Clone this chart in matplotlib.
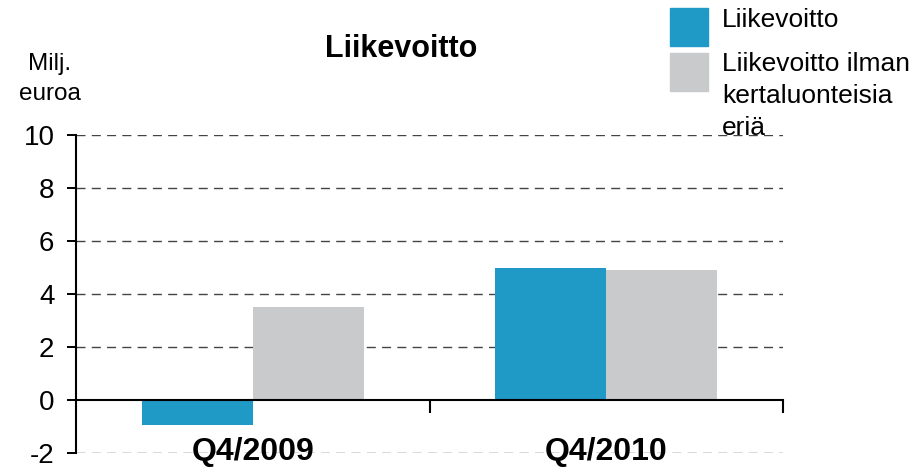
import matplotlib
matplotlib.use("Agg")
from matplotlib import pyplot as plt
from matplotlib.patches import Rectangle
import numpy as np

plt.rcParams['font.family'] = ['Liberation Sans', 'DejaVu Sans']

# data
categories = ["Q4/2009", "Q4/2010"]
liikevoitto = [-0.95, 5.0]
ilman_kertaeria = [3.5, 4.9]
y_ticks = [-2, 0, 2, 4, 6, 8, 10]

series_labels = ["Liikevoitto", "Liikevoitto ilman\nkertaluonteisia\neriä"]
blue = "#1f99c6"
gray = "#c9cacc"

fig = plt.figure(figsize=(9.15, 4.67), dpi=100)
ax = fig.add_axes([76 / 915, 1 - 453 / 467, (783 - 76) / 915, (453 - 135) / 467])

x = np.arange(len(categories))
w = 0.314
ax.bar(x - w / 2, liikevoitto, width=w, color=blue, zorder=3)
ax.bar(x + w / 2, ilman_kertaeria, width=w, color=gray, zorder=3)

ax.set_xlim(-0.5, len(categories) - 0.5)
ax.set_ylim(-2, 10)
ax.set_yticks(y_ticks)
ax.set_yticklabels([str(t) for t in y_ticks], fontsize=20)

# dashed grid (skip 0, that is the x axis)
for t in y_ticks:
    if t != 0:
        ax.axhline(t, color="#444444", lw=1.0, dashes=(6.5, 4.5), zorder=1)

for s in ["top", "right"]:
    ax.spines[s].set_visible(False)
ax.spines["left"].set_linewidth(1.5)
ax.spines["bottom"].set_position(("data", 0))
ax.spines["bottom"].set_linewidth(1.5)
ax.spines["bottom"].set_zorder(4)

ax.tick_params(axis="y", direction="out", length=6.5, width=1.4, pad=9)
ax.set_xticks(np.arange(len(categories)) + 0.5)
ax.set_xticklabels([])
ax.tick_params(axis="x", direction="out", length=9, width=1.5)

for xi, c in zip(x, categories):
    ax.text(xi, -1.95, c, ha="center", va="center", fontsize=23,
            fontweight="bold", zorder=5)

# title and unit
fig.text(401 / 915, 1 - 57 / 467, "Liikevoitto", ha="center", va="baseline",
         fontsize=22, fontweight="bold")
fig.text(50 / 915, 1 - 53 / 467, "Milj.\neuroa", ha="center", va="top",
         fontsize=17.5, linespacing=1.45)

# legend drawn by hand
fig.patches.append(Rectangle((670 / 915, 1 - 46 / 467), 38 / 915, 38 / 467,
                             transform=fig.transFigure, color=blue))
fig.patches.append(Rectangle((670 / 915, 1 - 91 / 467), 38 / 915, 38 / 467,
                             transform=fig.transFigure, color=gray))
fig.text(722 / 915, 1 - 27 / 467, series_labels[0], ha="left", va="baseline",
         fontsize=19)
fig.text(722 / 915, 1 - 52 / 467, series_labels[1], ha="left", va="top",
         fontsize=19, linespacing=1.42)

fig.savefig("out.png", dpi=100)
